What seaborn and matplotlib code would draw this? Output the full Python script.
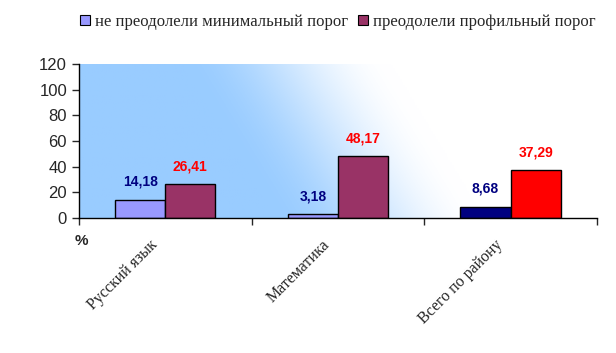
import matplotlib
matplotlib.use("Agg")
import matplotlib.pyplot as plt
import matplotlib.transforms as mtransforms
from matplotlib.patches import Patch
import numpy as np
import pandas as pd
import seaborn as sns

categories = ["Русский язык", "Математика", "Всего по району"]
series = ["не преодолели минимальный порог", "преодолели профильный порог"]
not_min = [14.18, 3.18, 8.68]
passed_prof = [26.41, 48.17, 37.29]

bar_colors = [["#9999FF", "#9999FF", "#000080"],
              ["#993366", "#993366", "#FF0000"]]
label_colors = ["#000080", "#FF0000"]

df = pd.DataFrame({
    "cat": categories * 2,
    "series": [series[0]] * 3 + [series[1]] * 3,
    "val": not_min + passed_prof,
})

sns.set_style("white")
plt.rcParams["font.family"] = ["Liberation Sans", "DejaVu Sans"]

fig = plt.figure(figsize=(6.16, 3.53), dpi=100)
ax = fig.add_axes([0.128, 0.382, 0.841, 0.437])

# gradient background: light blue at left -> white at right/top
gx, gy = np.meshgrid(np.linspace(0, 1, 300), np.linspace(0, 1, 150))
s = gx + 0.18 * gy
t = np.clip((s - 0.38) / 0.40, 0, 1)
t = t * t * (3 - 2 * t)
blue = np.array([0.6, 0.8, 1.0])
img = blue[None, None, :] * (1 - t[..., None]) + t[..., None]
ax.imshow(img, extent=[0, 1, 0, 1], transform=ax.transAxes, origin="lower",
          aspect="auto", zorder=0)

sns.barplot(data=df, x="cat", y="val", hue="series", width=0.58,
            edgecolor="black", linewidth=1, legend=False, ax=ax,
            palette=[bar_colors[0][0], bar_colors[1][0]], zorder=2)

for i, cont in enumerate(ax.containers):
    for j, bar in enumerate(cont):
        bar.set_facecolor(bar_colors[i][j])
        h = bar.get_height()
        ax.annotate(f"{h:.2f}".replace(".", ","),
                    (bar.get_x() + bar.get_width() / 2, h),
                    xytext=(0, 13), textcoords="offset points",
                    ha="center", va="center", fontsize=10, fontweight="bold",
                    color=label_colors[i])

ax.set_xlim(-0.5, 2.5)
ax.set_ylim(0, 120)
ax.set_yticks(range(0, 121, 20))
ax.tick_params(axis="y", labelsize=12, length=5, width=1, direction="out", left=True)
ax.set_xticks([-0.5, 0.5, 1.5, 2.5])
ax.set_xticklabels([])
ax.tick_params(axis="x", which="major", length=5, width=1, direction="out", bottom=True)
ax.set_xticks([0, 1, 2], minor=True)
ax.set_xticklabels(categories, minor=True, rotation=45, ha="right",
                   rotation_mode="anchor", fontsize=11.5,
                   family=["Liberation Serif", "DejaVu Serif"])
ax.tick_params(axis="x", which="minor", length=0, pad=8)
shift = mtransforms.ScaledTranslation(-0.16, -0.08, fig.dpi_scale_trans)
for lbl in ax.get_xticklabels(minor=True):
    lbl.set_transform(lbl.get_transform() + shift)
ax.set_xlabel("")
ax.set_ylabel("")
for side in ["top", "right"]:
    ax.spines[side].set_visible(False)
for side in ["left", "bottom"]:
    ax.spines[side].set_color("black")
    ax.spines[side].set_linewidth(1)

fig.text(0.1315, 0.317, "%", fontsize=11, fontweight="bold", ha="center", va="center")

handles = [Patch(facecolor=bar_colors[k][0], edgecolor="black", linewidth=0.8)
           for k in range(2)]
fig.legend(handles, series, loc="center", bbox_to_anchor=(0.549, 0.938), ncol=2,
           frameon=False, handlelength=0.6, handleheight=0.6, handletextpad=0.3,
           columnspacing=0.6, prop={"family": "Liberation Serif", "size": 12})

fig.savefig("out.png", dpi=100)
